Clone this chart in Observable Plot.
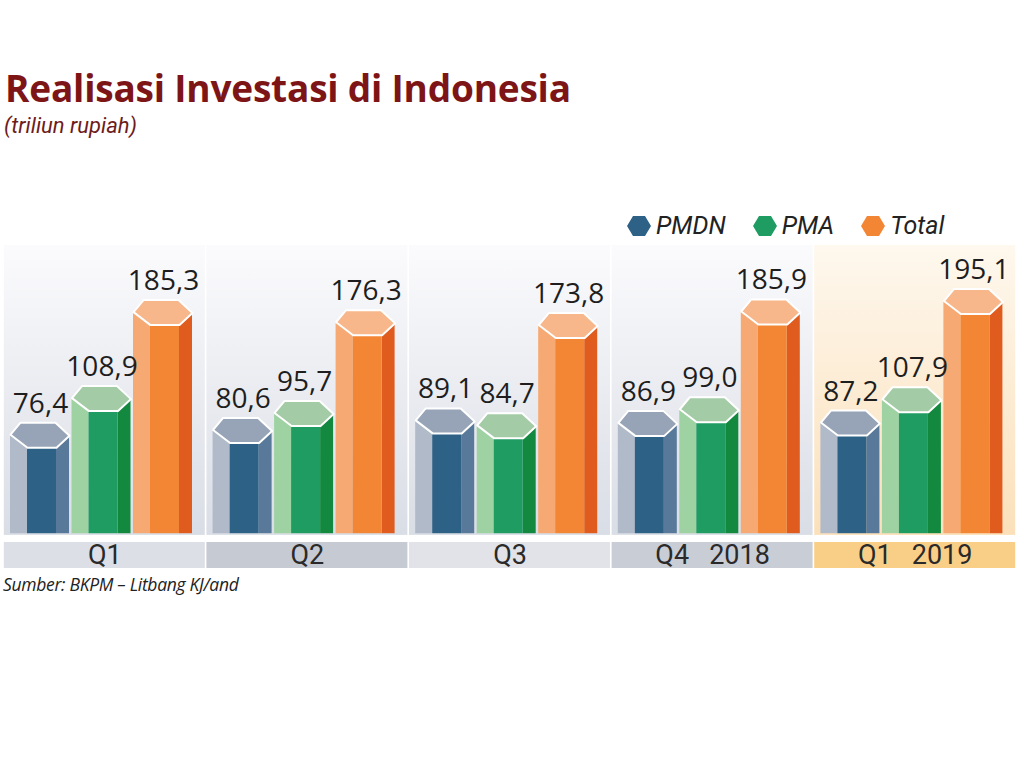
<!DOCTYPE html>
<html><head><meta charset="utf-8">
<script src="https://cdn.jsdelivr.net/npm/d3@7"></script>
<script src="https://cdn.jsdelivr.net/npm/@observablehq/plot@0.6"></script>
<style>
body{margin:0;background:#fff;}
#wrap{position:relative;width:1024px;height:764px;overflow:hidden;font-family:"Open Sans",sans-serif;}
#title{position:absolute;left:5px;top:69px;font-size:37px;font-weight:700;color:#7d1416;white-space:nowrap;line-height:1;letter-spacing:-0.2px}
#subtitle{position:absolute;left:4px;top:115px;font-family:Roboto,sans-serif;font-size:22px;font-style:italic;color:#6e1c1c;white-space:nowrap;line-height:1}
#legend{position:absolute;left:627px;top:210px;display:flex;align-items:center;font-family:Roboto,sans-serif;font-style:italic;font-size:25px;color:#222;line-height:32px}
#legend .it{display:flex;align-items:center;margin-right:27px}
#legend svg{margin-right:5px}
#chart{position:absolute;left:0;top:240px}
#caption{position:absolute;left:3px;top:576px;font-size:17.5px;font-style:italic;color:#222;white-space:nowrap;letter-spacing:-0.3px;line-height:1}
</style></head>
<body><div id="wrap">
<div id="title">Realisasi Investasi di Indonesia</div>
<div id="subtitle">(triliun rupiah)</div>
<div id="legend"></div>
<div id="chart"></div>
<div id="caption">Sumber: BKPM – Litbang KJ/and</div>
</div>
<script>
// ---- data ----
const quarters = ["Q1", "Q2", "Q3", "Q4\u00a0\u00a0\u00a02018", "Q1\u00a0\u00a0\u00a02019"];
const series = ["PMDN", "PMA", "Total"];
const pmdn  = [76.4, 80.6, 89.1, 86.9, 87.2];
const pma   = [108.9, 95.7, 84.7, 99.0, 107.9];
const total = [185.3, 176.3, 173.8, 185.9, 195.1];

// ---- styles ----
const frontColors = ["#2d6186", "#1f9c62", "#f38634"];
const leftColors  = ["#b0bac9", "#9fd2a3", "#f6a972"];
const rightColors = ["#587999", "#12893f", "#e05b1e"];
const capColors   = ["#97a4b7", "#a3cba6", "#f8b78a"];
const legendColors= ["#2d6186", "#1f9c62", "#f38634"];
const bandColors  = ["#dcdfe5", "#c6cad3", "#e1e3e8", "#c9cdd6", "#f9cf88"];

const W = 1024, H = 345, mL = 3, mR = 8, mT = 5;
const yMin = -46, yMax = 256;
const U = (W - mL - mR) / quarters.length;     // px per x unit
const PY = (yMax - yMin) / (H - mT);           // y units per px

const values = [pmdn, pma, total];
const rows = quarters.flatMap((q, qi) => series.map((s, si) => ({qi, si, value: values[si][qi]})));
const cx = d => d.qi + (37 + 61.5 * d.si) / U;

// cap hexagon vertices (px offsets from front-top centre)
const capShape = [[-20, 25], [15, 25], [29, 12], [16, 0], [-13, 0], [-30, 13]];
const capPts = rows.flatMap((d, k) => capShape.map(([dx, dy]) => ({id: k, si: d.si, x: cx(d) + dx / U, y: d.value + dy * PY})));

const qIdx = quarters.map((q, i) => i);

const marks = [
  Plot.rect(qIdx.filter(i => i < 4), {x1: i => i + 0.004, x2: i => i + 0.996, y1: -1.5, y2: yMax, fill: "url(#gBlue)"}),
  Plot.rect(qIdx.filter(i => i === 4), {x1: i => i + 0.004, x2: i => i + 0.996, y1: -1.5, y2: yMax, fill: "url(#gOrange)"}),
  Plot.rect(qIdx, {x1: i => i + 0.004, x2: i => i + 0.996, y1: -7.8, y2: -30.9, fill: i => bandColors[i]}),
  Plot.text(qIdx, {x: i => i + 0.5, y: -19.4, text: i => quarters[i], fontSize: 27, fill: "#2a2a2a", fontFamily: "Roboto, sans-serif", fontWeight: 400}),
  Plot.rect(rows, {x1: d => cx(d) - 30 / U, x2: d => cx(d) - 13 / U, y1: 0, y2: d => d.value + 13 * PY, fill: d => leftColors[d.si]}),
  Plot.rect(rows, {x1: d => cx(d) + 16 / U, x2: d => cx(d) + 29 / U, y1: 0, y2: d => d.value + 12 * PY, fill: d => rightColors[d.si]}),
  Plot.rect(rows, {x1: d => cx(d) - 13 / U, x2: d => cx(d) + 16 / U, y1: 0, y2: d => d.value, fill: d => frontColors[d.si]}),
  ...series.map((s, si) => Plot.line(capPts.filter(p => p.si === si), {x: "x", y: "y", z: "id", fill: capColors[si], stroke: "white", strokeWidth: 2, curve: "linear-closed"})),
  Plot.text(rows, {x: cx, y: d => d.value + 25 * PY, dy: -10, lineAnchor: "bottom", text: d => d.value.toFixed(1).replace(".", ","), fontSize: 28, fontWeight: 500, fill: "#1e1e1e", fontFamily: "Open Sans, sans-serif"})
];

const chart = Plot.plot({
  width: W, height: H,
  marginLeft: mL, marginRight: mR, marginTop: mT, marginBottom: 0,
  x: {domain: [0, quarters.length], axis: null},
  y: {domain: [yMin, yMax], axis: null},
  color: {type: "identity"},
  style: {background: "transparent", overflow: "visible"},
  marks
});
d3.select(chart).insert("defs", ":first-child").html(
  `<linearGradient id="gBlue" x1="0" y1="0" x2="0" y2="1"><stop offset="0" stop-color="#fbfbfd"/><stop offset="1" stop-color="#d9dde5"/></linearGradient>
   <linearGradient id="gOrange" x1="0" y1="0" x2="0" y2="1"><stop offset="0" stop-color="#fef8ee"/><stop offset="1" stop-color="#fbe0ba"/></linearGradient>`);
document.getElementById("chart").appendChild(chart);

// legend
const lg = d3.select("#legend");
series.forEach((s, i) => {
  const it = lg.append("div").attr("class", "it");
  it.append("svg").attr("width", 24).attr("height", 20)
    .append("polygon").attr("points", "6,0 18,0 24,10 18,20 6,20 0,10").attr("fill", legendColors[i]);
  it.append("span").text(s);
});
</script>
</body></html>
